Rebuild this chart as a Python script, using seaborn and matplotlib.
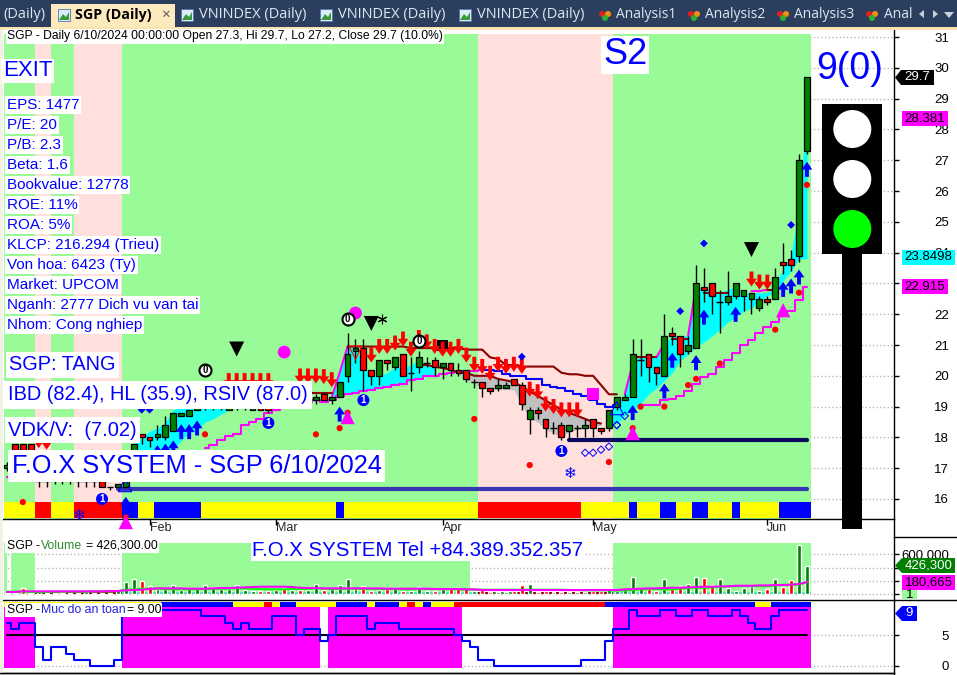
import numpy as np
import pandas as pd
import matplotlib
matplotlib.use("Agg")
import matplotlib.pyplot as plt
from matplotlib.patches import Rectangle, Circle, Polygon
import seaborn as sns

sns.set_theme(style="white")
plt.rcParams["font.family"] = ["Liberation Sans", "DejaVu Sans"]

W, H = 957, 675
GREEN_BG = "#98FB98"
PINK_BG = "#FFE0DC"
TEXT_BLUE = "#0000FF"

# --- candles (102 sessions, oldest first) ---
opens = [17.0, 17.8, 17.8, 17.8, 16.6, 16.6, 16.7, 16.7, 16.7, 16.6, 16.6, 16.6, 16.6, 16.4, 16.4, 16.4, 17.2, 18.1, 18.0, 18.0,
         18.0, 18.2, 18.7, 18.7, 18.9, 19.0, 19.0, 19.0, 18.9, 19.0, 19.0, 18.9, 19.0, 19.1, 19.1, 19.4, 19.2, 19.3, 19.2, 19.2,
         19.4, 19.2, 19.3, 20.0, 20.8, 20.9, 20.2, 20.0, 20.5, 20.3, 20.7, 20.1, 20.3, 20.4, 20.5, 20.3, 20.4, 20.2, 20.2, 19.8,
         19.8, 19.6, 19.6, 19.6, 19.9, 19.7, 18.6, 18.9, 18.6, 18.3, 18.4, 18.2, 18.3, 18.3, 18.6, 18.3, 18.3, 19.0, 19.2, 19.3,
         20.5, 20.7, 20.3, 20.0, 21.4, 21.3, 20.8, 20.9, 22.9, 23.0, 22.4, 22.4, 22.6, 22.6, 22.5, 22.2, 22.5, 22.5, 23.7, 23.8,
         23.9, 27.3]
closes = [17.1, 17.6, 17.6, 17.6, 16.6, 16.6, 16.7, 16.7, 16.7, 16.6, 16.6, 16.6, 16.4, 16.4, 16.5, 16.6, 17.8, 18.0, 17.9, 18.1,
          18.4, 18.8, 18.8, 18.9, 19.0, 19.0, 19.0, 19.0, 19.0, 19.0, 19.0, 19.0, 18.9, 18.9, 19.2, 19.2, 19.3, 19.2, 19.3, 19.3,
          19.2, 19.3, 19.8, 20.7, 20.9, 20.2, 20.0, 20.5, 20.4, 20.6, 20.0, 20.1, 20.6, 20.4, 20.3, 20.4, 20.2, 20.1, 19.9, 19.8,
          19.6, 19.5, 19.7, 19.7, 19.7, 19.1, 18.9, 18.8, 18.3, 18.3, 18.0, 18.4, 18.3, 18.4, 18.3, 18.2, 18.9, 19.3, 19.3, 20.7,
          20.5, 20.3, 20.1, 21.3, 21.3, 20.7, 21.0, 23.0, 22.8, 22.6, 22.4, 22.6, 23.0, 22.8, 22.7, 22.5, 22.4, 23.2, 23.6, 23.6,
          27.0, 29.7]
highs = [17.2, 17.8, 17.8, 17.8, 16.7, 16.6, 16.8, 16.8, 16.8, 16.6, 16.6, 16.6, 16.6, 16.4, 16.5, 16.7, 17.8, 18.1, 18.0, 18.4,
         18.7, 18.8, 18.8, 18.9, 19.1, 19.1, 19.1, 19.0, 19.0, 19.1, 19.1, 19.0, 19.1, 19.1, 19.2, 19.4, 19.3, 19.3, 19.3, 19.4,
         19.4, 19.3, 19.8, 21.4, 21.2, 21.2, 20.2, 20.5, 20.5, 20.6, 20.7, 20.6, 20.8, 20.6, 20.6, 20.4, 20.4, 20.4, 20.2, 19.9,
         19.8, 19.6, 19.9, 19.8, 19.9, 19.8, 19.0, 19.0, 18.6, 18.5, 18.5, 18.4, 18.4, 18.6, 18.6, 18.3, 18.9, 19.3, 19.4, 21.2,
         21.2, 20.7, 20.3, 22.0, 21.6, 21.3, 21.3, 23.6, 23.5, 23.0, 22.8, 23.4, 23.0, 22.8, 22.7, 22.6, 22.6, 23.5, 24.3, 24.1,
         27.2, 29.7]
lows = [16.9, 17.5, 17.5, 17.5, 16.4, 16.4, 16.5, 16.5, 16.5, 16.4, 16.4, 16.4, 16.4, 16.3, 16.4, 16.4, 17.2, 17.8, 17.7, 17.9,
        17.9, 18.2, 18.7, 18.7, 18.9, 18.9, 18.9, 18.9, 18.9, 18.9, 18.9, 18.9, 18.9, 18.8, 19.1, 19.2, 19.2, 19.2, 19.1, 19.1,
        19.2, 19.1, 19.3, 19.8, 20.4, 19.5, 19.7, 19.7, 20.2, 20.2, 20.0, 19.5, 20.1, 20.3, 20.0, 19.9, 20.0, 20.0, 19.8, 19.6,
        19.3, 19.4, 19.5, 19.6, 19.7, 18.9, 18.1, 18.6, 18.0, 18.1, 17.9, 17.9, 18.0, 18.0, 18.0, 18.1, 18.2, 18.9, 19.2, 19.3,
        20.0, 19.8, 19.7, 20.0, 21.0, 20.3, 20.7, 20.9, 22.4, 22.0, 21.4, 22.3, 22.5, 22.1, 22.0, 22.1, 22.3, 22.5, 23.3, 23.4,
        23.7, 27.2]

# --- volume, thousands of shares ---
volume_k = [10, 15, 86, 15, 60, 20, 15, 10, 15, 10, 40, 15, 15, 20, 71, 188, 229, 203, 122, 71,
            71, 137, 61, 86, 86, 132, 102, 71, 71, 132, 61, 50, 50, 50, 61, 86, 61, 61, 61, 152,
            61, 71, 132, 224, 86, 122, 50, 61, 71, 86, 50, 50, 100, 50, 50, 71, 86, 86, 86, 50,
            60, 30, 30, 30, 40, 132, 152, 35, 40, 35, 35, 30, 30, 30, 40, 45, 92, 45, 61, 259,
            92, 71, 50, 229, 86, 122, 152, 259, 244, 137, 224, 86, 50, 86, 122, 45, 71, 224, 100, 213,
            747, 426.3]
vol_ma_magenta = [30, 30, 40, 40, 40, 40, 40, 40, 40, 40, 40, 40, 40, 45, 45, 55, 60, 65, 75, 85,
                  85, 85, 85, 80, 80, 80, 85, 90, 90, 95, 100, 105, 110, 110, 110, 110, 105, 95, 90, 90,
                  85, 85, 85, 85, 85, 85, 85, 85, 80, 80, 80, 80, 80, 80, 75, 75, 75, 75, 70, 70,
                  60, 60, 60, 60, 60, 60, 60, 60, 60, 60, 60, 60, 60, 60, 60, 60, 60, 60, 70, 75,
                  80, 85, 85, 90, 95, 95, 100, 105, 110, 110, 115, 115, 125, 125, 125, 130, 130, 135, 135, 140,
                  150, 180.665]
vol_ma_lime = [35, 35, 35, 30, 30, 30, 35, 35, 35, 35, 35, 40, 40, 40, 45, 60, 70, 80, 80, 80,
               75, 70, 70, 70, 70, 75, 75, 80, 80, 85, 85, 80, 75, 70, 70, 70, 75, 75, 75, 85,
               80, 75, 80, 80, 85, 75, 75, 75, 75, 75, 70, 70, 75, 75, 75, 75, 70, 70, 70, 65,
               65, 65, 65, 65, 65, 65, 65, 65, 65, 65, 65, 60, 60, 55, 55, 55, 55, 50, 55, 60,
               70, 70, 75, 70, 70, 80, 90, 95, 95, 100, 110, 115, 120, 120, 120, 120, 120, 130, 140, 140,
               145, 180]

# --- safety score ---
safety = [7, 6, 7, 7, 3, 1, 3, 3, 2, 1, 1, 0, 0, 0, 1,
          9, 9, 9, 9, 9, 9, 9, 9, 9, 9, 8, 8, 8, 7, 6, 7, 6, 6, 6, 8, 8, 8, 5, 6, 6, 4, 5,
          8, 8, 8, 8, 6, 7, 7, 7, 6, 6, 6, 6, 6, 6, 6, 5, 4, 3, 1, 1,
          0, 0, 0, 0, 0, 0, 0, 0, 0, 0, 0, 1, 1, 1, 4, 6, 6, 9, 8, 8, 8, 9, 9, 8, 8, 9, 9,
          8, 8, 8, 9, 8, 7, 6, 6, 8, 9, 9, 9, 9]

# --- indicator lines (bar index, price) ---
stop_idx_a = [0, 1]
stop_a = [16.7, 16.7]
stop_idx_b = list(range(25, 62))
stop_b = [17.65, 17.75, 17.9, 18.05, 18.1, 18.4, 18.5, 18.6, 18.8, 18.9, 18.95, 19.0, 19.1, 19.15, 19.2, 19.15, 19.2,
          19.35, 19.4, 19.45, 19.5, 19.55, 19.6, 19.65, 19.7, 19.75, 19.85, 19.9, 20.0, 20.0, 20.05, 20.1, 20.15, 20.15,
          20.15, 20.2, 20.2]
stop_idx_c = list(range(80, 102))
stop_c = [19.05, 19.05, 19.05, 19.2, 19.25, 19.35, 19.5, 19.75, 19.95, 20.05, 20.3, 20.5, 20.75, 21.0, 21.15, 21.4,
          21.6, 21.75, 22.0, 22.1, 22.45, 22.9]

slow_runs = [(list(range(36, 42)), [19.44] * 6),
             (list(range(43, 78)), [20.95] * 8 + [20.9] * 7 + [20.85] * 3 + [20.6, 20.55, 20.35, 20.35, 20.3, 20.3, 20.3,
                                    20.3, 20.3, 20.1, 20.05, 20.05, 20.0, 20.0, 19.7, 19.4, 19.4]),
             (list(range(79, 83)), [20.6] * 4),
             (list(range(84, 87)), [21.2] * 3),
             (list(range(88, 92)), [22.7] * 4),
             (list(range(96, 98)), [22.8] * 2)]
fast_idx = list(range(52, 76))
fast_line = [20.35, 20.35, 20.3, 20.25, 20.2, 20.1, 20.1, 20.0, 20.0, 20.0, 19.9, 19.85, 19.8, 19.65, 19.5, 19.35,
             19.2, 19.05, 18.9, 18.8, 18.7, 18.6, 18.5, 18.45]
blue_idx = list(range(60, 78))
blue_line = [20.2, 20.2, 20.15, 20.05, 20.0, 20.0, 19.9, 19.9, 19.7, 19.65, 19.6, 19.5, 19.4, 19.35, 19.2, 19.1, 19.0, 19.05]
magenta_jumps = [([41, 42, 43], [19.3, 20.1, 20.95]), ([78, 79], [19.4, 20.4]), ([82, 83], [20.6, 21.05]),
                 ([86, 87], [21.3, 22.9]), ([94, 95, 96], [22.75, 22.75, 22.8])]

# --- clouds ---
cloud1_idx = list(range(15, 30))
cloud1_top = [17.0, 17.8, 18.0, 18.2, 18.3, 18.5, 18.9, 19.0, 19.0, 19.1, 19.1, 19.1, 19.1, 19.1, 19.1]
cloud1_bot = [16.5, 16.8, 17.0, 17.1, 17.2, 17.3, 17.6, 17.9, 18.15, 18.2, 18.5, 18.6, 18.75, 18.9, 19.0]
cloud2_idx = list(range(41, 55))
cloud2_top = [19.3, 20.1, 20.95, 20.95, 20.3, 20.0, 20.0, 20.1, 20.3, 20.25, 20.35, 20.5, 20.4, 20.25]
cloud2_bot = [19.3, 19.35, 19.4, 19.45, 19.5, 19.55, 19.6, 19.65, 19.7, 19.75, 19.85, 19.9, 20.0, 20.0]
cloud3_idx = list(range(76, 102))
cloud3_top = [18.7, 19.1, 19.4, 20.5, 20.6, 20.6, 20.6, 21.05, 21.3, 21.3, 21.3, 22.9, 22.8, 22.8, 22.7, 22.8, 22.9,
              22.7, 22.7, 22.7, 22.7, 22.9, 23.5, 23.9, 25.5, 28.7]
cloud3_bot = [18.4, 18.45, 18.7, 18.9, 19.1, 19.4, 19.6, 19.85, 20.1, 20.5, 20.7, 20.95, 21.1, 21.3, 21.5, 21.75, 21.9,
              22.1, 22.2, 22.4, 22.6, 22.7, 23.1, 23.4, 23.8, 23.8]
grey_idx = list(range(57, 76))
grey_top = [20.1, 20.1, 20.0, 20.0, 20.0, 19.9, 19.85, 19.8, 19.65, 19.5, 19.35, 19.2, 19.05, 18.9, 18.8, 18.7, 18.6, 18.5, 18.45]
grey_bot = [20.1, 19.85, 19.75, 19.6, 19.55, 19.55, 19.55, 19.55, 19.05, 18.6, 18.5, 18.25, 18.15, 18.0, 18.2, 18.25, 18.3, 18.35, 18.4]

# --- signals ---
sell_idx = [4, 5, 28, 29, 30, 31, 32, 33, 37, 38, 39, 40, 41, 46, 47, 48, 49, 50, 51, 52, 53, 54, 55, 56, 57, 58, 59, 60,
            61, 62, 63, 64, 65, 66, 67, 68, 69, 70, 71, 72, 94, 95, 96]
sell_tip = [17.65, 17.6, 19.6, 19.6, 19.6, 19.6, 19.6, 19.6, 19.75, 19.75, 19.75, 19.73, 19.63, 20.43, 20.71, 20.71, 20.82,
            20.95, 20.62, 21.0, 20.86, 20.71, 20.62, 20.62, 20.71, 20.43, 20.13, 20.06, 19.84, 20.13, 20.06, 20.13, 20.06,
            19.32, 19.24, 18.84, 18.76, 18.65, 18.65, 18.65, 22.9, 22.8, 22.8]
buy_idx = [15, 19, 20, 21, 22, 23, 24, 42, 79, 83, 84, 87, 88, 92, 98, 99, 100, 101]
buy_tip = [16.07, 17.75, 17.8, 17.9, 18.43, 18.43, 18.55, 19.0, 19.05, 19.75, 20.75, 20.67, 22.15, 22.24, 23.05, 23.16, 23.45, 26.95]
red_dot_idx = [2, 15, 25, 39, 42, 43, 59, 66, 76, 79, 80, 83, 86, 87, 90, 97, 100, 101]
red_dot_val = [15.9, 15.4, 18.1, 18.1, 18.3, 18.8, 18.6, 17.1, 17.2, 18.3, 19.0, 19.0, 19.7, 19.9, 20.4, 21.5, 22.7, 26.2]
blue_dot_idx = [17, 18, 65, 85, 88, 99]
blue_dot_val = [18.9, 18.9, 20.62, 22.1, 24.3, 24.9]
ring_idx = [73, 74, 75, 76, 77, 77, 78]
ring_val = [17.5, 17.5, 17.6, 17.7, 18.4, 18.4, 18.7]
top_idx = [29, 46, 94]
top_val = [20.87, 21.7, 24.1]
peak_idx = [15, 43, 79, 98]
peak_val = [15.25, 18.66, 18.14, 22.13]
magenta_circle_idx = [35, 44]
magenta_circle_val = [20.77, 22.04]
zero_idx = [25, 43, 52]
zero_val = [20.2, 21.84, 21.13]
one_idx = [12, 33, 45, 70]
one_val = [16.0, 18.47, 19.21, 17.56]
support_idx = [71, 101]
support_val = [17.92, 17.92]
base_idx = [14, 101]
base_val = [16.32, 16.32]

# --- coloured runs: edges between bars, one colour per run ---
zone_edges = [-0.38, 3.5, 5.5, 8.5, 14.5, 59.5, 76.5, 101.5]
zone_colors = [GREEN_BG, PINK_BG, GREEN_BG, PINK_BG, GREEN_BG, PINK_BG, GREEN_BG]
strip_edges = [-0.38, 3.5, 5.5, 8.5, 14.5, 16.5, 18.5, 24.5, 41.5, 42.5, 59.5, 72.5, 78.5, 79.5, 82.5, 84.5, 86.5, 88.5,
               91.5, 92.5, 97.5, 101.5]
strip_colors = ["y", "r", "y", "r", "b", "y", "b", "y", "b", "y", "r", "y", "b", "y", "b", "y", "b", "y", "b", "y", "b"]
safety_strip_edges = [-0.38, 19.5, 28.5, 32.5, 33.5, 34.5, 36.5, 41.5, 45.5, 46.5, 49.5, 50.5, 51.5, 52.5, 53.5, 56.5,
                      75.5, 94.5, 96.5, 101.5]
safety_strip_colors = ["y", "b", "y", "r", "y", "b", "y", "b", "y", "b", "y", "r", "y", "b", "y", "r", "b", "y", "b"]
vol_zone_runs = [(-0.38, 0.0), (0.5, 3.5), (14.5, 58.5), (76.5, 101.5)]
vol_band_edges = [3.5, 14.5, 59.5, 76.5, 101.5]
vol_band_colors = ["#8B0000", "#40E0D0", "#8B0000", "#40E0D0"]
safety_zone_runs = [(-0.38, 3.5), (14.5, 39.5), (40.5, 57.5), (76.5, 101.5)]

month_idx = [18, 34, 55, 74, 96]
month_labels = ["Feb", "Mar", "Apr", "May", "Jun"]
price_ticks = list(range(16, 32))
info_lines = ["EPS: 1477", "P/E: 20", "P/B: 2.3", "Beta: 1.6", "Bookvalue: 12778", "ROE: 11%", "ROA: 5%",
              "KLCP: 216.294 (Trieu)", "Von hoa: 6423 (Ty)", "Market: UPCOM", "Nganh: 2777 Dich vu van tai",
              "Nhom: Cong nghiep"]

idx = np.arange(len(closes))
RUN_COLOR = {"y": "#FFFF00", "r": "#FF0000", "b": "#0000FF"}
X_LEFT = -7 / 7.92
X_RIGHT = 887 / 7.92


def panel(top, bottom):
    return fig.add_axes([0, 1 - bottom / H, 894 / W, (bottom - top) / H])


def line(ax, x, y, color, lw, steps=False, z=4):
    kws = {"drawstyle": "steps-mid"} if steps else {}
    sns.lineplot(x=x, y=y, color=color, linewidth=lw, estimator=None, sort=False, legend=False, ax=ax, zorder=z, **kws)


def marks(ax, x, y, marker, color, s, edge="none", lw=0, z=7):
    sns.scatterplot(x=x, y=y, marker=marker, color=color, s=s, edgecolor=edge, linewidth=lw, legend=False, ax=ax,
                    zorder=z, clip_on=False)


fig = plt.figure(figsize=(W / 100, H / 100), dpi=100, facecolor="white")
ax = panel(30, 519)
ax_vol = panel(536.5, 600)
ax_safe = panel(600, 673)

# ---- main panel ----
for a, b, c in zip(zone_edges[:-1], zone_edges[1:], zone_colors):
    ax.axvspan(a, b, ymin=0, ymax=(519 - 33.5) / 489, color=c, lw=0, zorder=1)
for a, b, c in zip(strip_edges[:-1], strip_edges[1:], strip_colors):
    ax.axvspan(a, b, ymin=1 / 489, ymax=17 / 489, color=RUN_COLOR[c], lw=0, zorder=2)

for i, t, b in [(cloud1_idx, cloud1_top, cloud1_bot), (cloud2_idx, cloud2_top, cloud2_bot), (cloud3_idx, cloud3_top, cloud3_bot)]:
    ax.fill_between(i, b, t, color="#00FFFF", lw=0, zorder=2.5)
ax.fill_between(grey_idx, grey_bot, grey_top, color="#C0C0C0", lw=0, zorder=2.5)

line(ax, base_idx, base_val, "#3636B0", 3)
line(ax, support_idx, support_val, "#0A0A60", 3)
line(ax, stop_idx_a, stop_a, "#FF00FF", 1.5)
line(ax, stop_idx_b, stop_b, "#FF00FF", 1.5, steps=True)
line(ax, stop_idx_c, stop_c, "#FF00FF", 1.5, steps=True)
for x, y in magenta_jumps:
    line(ax, x, y, "#FF00FF", 1.5)
line(ax, blue_idx, blue_line, "#0000FF", 1.5, steps=True)
for x, y in slow_runs:
    line(ax, x, y, "#8B0000", 1.5)
line(ax, fast_idx, fast_line, "#8B0000", 1.5)

# candles
for i in idx:
    o, c = opens[i], closes[i]
    ax.vlines(i, lows[i], highs[i], color="black", lw=1, zorder=5)
    if o == c:
        ax.hlines(o, i - 0.42, i + 0.42, color="black", lw=1, zorder=5)
    else:
        ax.bar(i, abs(c - o), bottom=min(o, c), width=0.74, color="#008000" if c > o else "#FF0000",
               edgecolor="black", linewidth=0.9, zorder=5)

up_arrow = [(0, 0), (0.36, -0.52), (0.13, -0.52), (0.13, -1), (-0.13, -1), (-0.13, -0.52), (-0.36, -0.52), (0, 0)]
down_arrow = [(x, -y) for x, y in up_arrow]
marks(ax, sell_idx, sell_tip, down_arrow, "#FF0000", 467, z=6)
marks(ax, buy_idx, buy_tip, up_arrow, "#0000FF", 467, z=6)
marks(ax, red_dot_idx, red_dot_val, "o", "#FF0000", 20)
marks(ax, blue_dot_idx, blue_dot_val, "D", "#0000FF", 16)
marks(ax, ring_idx, ring_val, "D", "none", 14, edge="#0000FF", lw=0.7)
marks(ax, top_idx, top_val, "v", "black", 117)
marks(ax, peak_idx, peak_val, "^", "#FF00FF", 105)
marks(ax, magenta_circle_idx, magenta_circle_val, "o", "#FF00FF", 85)
marks(ax, [74], [19.41], "s", "#FF00FF", 85)
marks(ax, [55], [20.98], "s", "black", 70, z=4.5)
marks(ax, [47.4], [21.84], (6, 2, 0), "black", 40, edge="black", lw=0.8)
marks(ax, zero_idx, zero_val, "o", "white", 75, edge="black", lw=1.5, z=8)
marks(ax, one_idx, one_val, "o", "#0000FF", 75, z=8)
marks(ax, [14.9, 77], [16.45, 18.95], "^", "none", 90, edge="#0000FF", lw=0.8)
marks(ax, [44], [20.75], "v", "none", 90, edge="#FF0000", lw=0.8)
for x, y in zip(zero_idx, zero_val):
    ax.text(x, y, "0", color="black", fontsize=7, fontweight="bold", ha="center", va="center", zorder=9)
for x, y in zip(one_idx, one_val):
    ax.text(x, y, "1", color="white", fontsize=7, fontweight="bold", ha="center", va="center", zorder=9)
for x, y in [(71.1, 16.84), (9.1, 15.45)]:
    ax.text(x, y, "\u2744", family="DejaVu Sans", color="#0000FF", fontsize=11, ha="center", va="center", zorder=7)

ax.set_xlim(X_LEFT, X_RIGHT)
ax.set_ylim(15.35, 31.23)
ax.set_yticks(price_ticks)
ax.set_xticks(month_idx)
ax.set_xticklabels(month_labels, ha="left", fontsize=9)
ax.tick_params(axis="x", bottom=True, length=4, width=1, pad=-2, color="black")
ax.set_xlabel("")
ax.set_ylabel("")

# ---- volume panel ----
for a, b in vol_zone_runs:
    ax_vol.fill_between([a, b], 0, 770800, color=GREEN_BG, lw=0, zorder=1)
for a, b, c in zip(vol_band_edges[:-1], vol_band_edges[1:], vol_band_colors):
    ax_vol.fill_between([a, b], 0, 30000, color=c, lw=0, zorder=2)
ax_vol.fill_between([6.5, 7.5], 0, 30000, color="#F4A460", lw=0, zorder=2.1)
ax_vol.fill_between([61.5, 64.5], 0, 30000, color="#2E9E2E", lw=0, zorder=2.1)

vol_df = pd.DataFrame({"bar": idx, "vol": np.array(volume_k) * 1000,
                       "dir": ["up" if c >= o else "down" for o, c in zip(opens, closes)]})
sns.barplot(data=vol_df, x="bar", y="vol", hue="dir", palette={"up": "#008000", "down": "#FF0000"}, native_scale=True,
            dodge=False, width=0.5, saturation=1, errorbar=None, legend=False, ax=ax_vol, zorder=3)
line(ax_vol, idx, np.array(vol_ma_lime) * 1000, "#00FF00", 1.5)
line(ax_vol, idx, np.array(vol_ma_magenta) * 1000, "#FF00FF", 1.5)
ax_vol.set_xlim(X_LEFT, X_RIGHT)
ax_vol.set_ylim(-90700, 869000)
ax_vol.set_yticks([0, 200000, 400000, 600000])
ax_vol.set_xticks([])
ax_vol.set_xlabel("")
ax_vol.set_ylabel("")

# ---- safety panel ----
for a, b in safety_zone_runs:
    ax_safe.fill_between([a, b], -0.27, 9.56, color="#FF00FF", lw=0, zorder=1)
for a, b, c in zip(safety_strip_edges[:-1], safety_strip_edges[1:], safety_strip_colors):
    ax_safe.fill_between([a, b], 9.56, 10.37, color=RUN_COLOR[c], lw=0, zorder=2)
line(ax_safe, [0, 101], [5, 5], "black", 1.5)
line(ax_safe, idx, safety, "#0000FF", 1.5, steps=True, z=5)
ax_safe.set_xlim(X_LEFT, X_RIGHT)
ax_safe.set_ylim(-1.13, 10.65)
ax_safe.set_yticks([0, 5])
ax_safe.set_xticks([])
ax_safe.set_xlabel("")
ax_safe.set_ylabel("")

# shared axis look
for a in (ax, ax_vol, ax_safe):
    a.set_facecolor("none")
    a.set_axisbelow(True)
    a.grid(False)
    a.grid(axis="y", color="#B8B8B8", linestyle=":", linewidth=1)
    for side in ("left", "top"):
        a.spines[side].set_visible(False)
    for side in ("bottom", "right"):
        a.spines[side].set_visible(True)
        a.spines[side].set_color("black")
        a.spines[side].set_linewidth(1)
    a.yaxis.tick_right()
    a.tick_params(axis="y", right=True, left=False, length=3.6, width=1, color="black", pad=36, labelsize=9.5,
                  labelcolor="black")
    for lab in a.get_yticklabels():
        lab.set_ha("right")
ax_vol.set_yticklabels(["", "", "", "600,000"])

# ---- overlay in pixels: window chrome, text boxes, traffic light, price tags ----
ov = fig.add_axes([0, 0, 1, 1], zorder=10)
ov.set_xlim(0, W)
ov.set_ylim(H, 0)
ov.axis("off")
ov.patch.set_visible(False)

ov.add_patch(Rectangle((0, 0), W, 27, color="#2C3E5E", lw=0))
ov.add_patch(Rectangle((0, 27), W, 3, color="#FBE3AE", lw=0))
ov.add_patch(Rectangle((51, 4), 124, 23, color="#FCE9BE", lw=0))
ov.add_patch(Rectangle((0, 30), 3, 643, color="#F2F2E4", lw=0))
ov.plot([894, 957], [536.5, 536.5], color="black", lw=1)
ov.plot([894, 957], [600, 600], color="black", lw=1)
ov.plot([0, 894], [673, 673], color="black", lw=1)
ov.plot([894, 894], [673, 675], color="black", lw=1)
ov.plot([894, 894], [519, 537], color="black", lw=1)

tab_font = ["Open Sans", "DejaVu Sans"]
ov.text(3, 15, "(Daily)", color="#DDE6F0", fontsize=10.5, family=tab_font, va="center")
ov.text(75, 15, "SGP (Daily)", color="black", fontsize=10.3, fontweight="bold", family=tab_font, va="center")
ov.text(165, 15, "\u00d7", color="#555555", fontsize=11, family=tab_font, ha="center", va="center")
for x in (199, 338, 477):
    ov.text(x, 15, "VNINDEX (Daily)", color="#DDE6F0", fontsize=10.5, family=tab_font, va="center")
for x in (58, 181, 320, 459):
    ov.add_patch(Rectangle((x, 9), 12, 12, fc="#DCEBFA", ec="#5577AA", lw=0.6))
    ov.add_patch(Polygon([(x + 1, 20), (x + 5, 14), (x + 8, 17), (x + 11, 12), (x + 11, 20)], color="#3A9A3A", lw=0))
for x, name in zip((616, 705, 794), ("Analysis1", "Analysis2", "Analysis3")):
    ov.text(x, 15, name, color="#DDE6F0", fontsize=10, family=tab_font, va="center")
ov.text(884, 15, "Anal", color="#DDE6F0", fontsize=10, family=tab_font, va="center", clip_on=True)
for x in (605, 694, 783, 872):
    ov.add_patch(Circle((x - 3, 14), 3, color="#E02020", lw=0))
    ov.add_patch(Circle((x + 3, 14), 3, color="#F09010", lw=0))
    ov.add_patch(Circle((x, 18), 3, color="#30B030", lw=0))
ov.add_patch(Polygon([(924, 10), (924, 18), (919, 14)], color="#C8D0DC", lw=0))
ov.add_patch(Polygon([(933, 10), (933, 18), (938, 14)], color="#C8D0DC", lw=0))
ov.add_patch(Polygon([(944, 12), (954, 12), (949, 18)], color="#C8D0DC", lw=0))


def box_text(x, y, s, size, color=TEXT_BLUE, pad=1.2):
    ov.text(x, y, s, color=color, fontsize=size, va="center", ha="left",
            bbox=dict(facecolor="white", edgecolor="none", pad=pad))


box_text(7, 36.5, "SGP - Daily 6/10/2024 00:00:00 Open 27.3, Hi 29.7, Lo 27.2, Close 29.7 (10.0%)", 8.7, color="black", pad=1)
box_text(3, 71, "EXIT", 16)
box_text(603, 55, "S2", 26)
for k, s in enumerate(info_lines):
    box_text(7, 105 + 20 * k, s, 11)
box_text(9, 365, "SGP: TANG", 14.3, pad=2.5)
box_text(8, 395, "IBD (82.4), HL (35.9), RSIV (87.0)", 14.4, pad=3)
box_text(8, 430, "VDK/V:  (7.02)", 14.5, pad=2.5)
box_text(12, 466, "F.O.X SYSTEM - SGP 6/10/2024", 18.3, pad=2.5)
box_text(252, 550, "F.O.X SYSTEM Tel +84.389.352.357", 14.7, pad=1)
ov.add_patch(Rectangle((5, 541), 154, 12, color="white", lw=0, zorder=2))
ov.text(7, 546, "SGP - ", color="black", fontsize=8.8, va="center", zorder=3)
ov.text(41, 546, "Volume", color="#2E8B2E", fontsize=8.8, va="center", zorder=3)
ov.text(86, 546, "= 426,300.00", color="black", fontsize=8.8, va="center", zorder=3)
ov.add_patch(Rectangle((5, 603), 157, 14, color="white", lw=0, zorder=2))
ov.text(7, 610, "SGP - ", color="black", fontsize=8.8, va="center", zorder=3)
ov.text(41, 610, "Muc do an toan", color="#2222DD", fontsize=8.8, va="center", zorder=3)
ov.text(127, 610, "= 9.00", color="black", fontsize=8.8, va="center", zorder=3)

# traffic light
ov.text(850, 69, "9(0)", color=TEXT_BLUE, fontsize=27, ha="center", va="center")
ov.add_patch(Rectangle((822, 104), 60, 150, color="black", lw=0))
ov.add_patch(Rectangle((842, 254), 20, 275, color="black", lw=0))
ov.add_patch(Circle((852.3, 129), 19, color="white", lw=0))
ov.add_patch(Circle((852.3, 179), 19, color="white", lw=0))
ov.add_patch(Circle((852.3, 229), 19, color="#00FF00", lw=0))


def tag(x0, x1, y0, y1, s, bg, fg, arrow=None, tx=None):
    if arrow is None:
        ov.add_patch(Rectangle((x0, y0), x1 - x0, y1 - y0, color=bg, lw=0))
    else:
        ov.add_patch(Polygon([(arrow, (y0 + y1) / 2), (x0, y0), (x1, y0), (x1, y1), (x0, y1)], color=bg, lw=0))
    ov.text((x0 + x1) / 2 if tx is None else tx, (y0 + y1) / 2, s, color=fg, fontsize=9.5, ha="center", va="center")


tag(901, 934, 70, 85, "29.7", "black", "white", arrow=895, tx=917)
tag(902, 948, 111, 126, "28.381", "#FF00FF", "black")
tag(902, 955, 250, 265, "23.8498", "#00FFFF", "black")
tag(902, 948, 279, 294, "22.915", "#FF00FF", "black")
tag(902, 955, 558, 573, "426,300", "#008000", "white", arrow=895)
tag(902, 955, 575, 590, "180,665", "#FF00FF", "black")
tag(902, 917, 590, 599, "1", GREEN_BG, "black")
tag(902, 917, 606, 621, "9", "#0000FF", "white", arrow=895)

fig.savefig("out.png", dpi=100)
